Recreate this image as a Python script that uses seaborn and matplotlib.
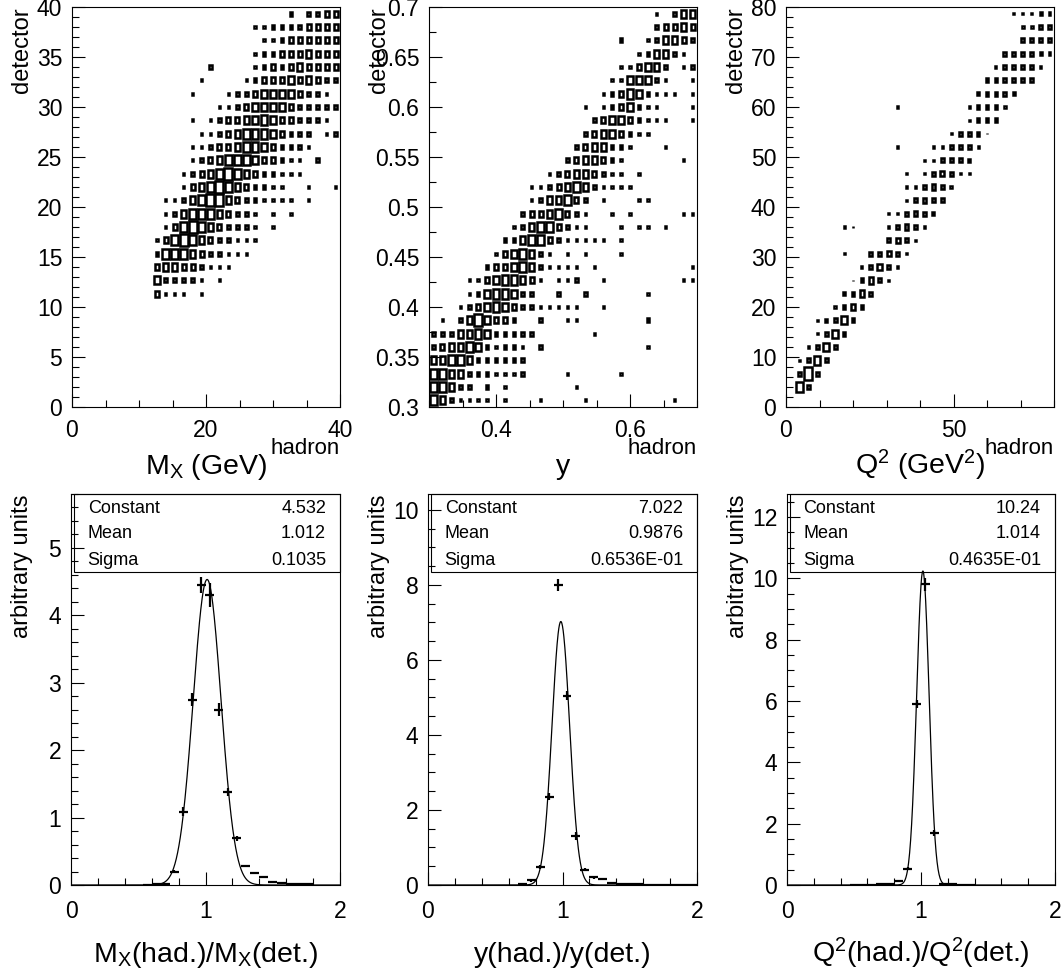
import numpy as np
import pandas as pd
import matplotlib
matplotlib.use("Agg")
import matplotlib.pyplot as plt
from matplotlib.path import Path
from matplotlib.patches import Rectangle
from matplotlib.ticker import MultipleLocator, FormatStrFormatter
import seaborn as sns

# ---------------- data ----------------
# 2D box histograms (30x30 bins), relative cell contents; rows listed from top (highest y bin) to bottom
mx_range = (0.0, 40.0)
mx_rows = [
    "000000000000000000000000202233",
    "000000000000000000001122223333",
    "000000000000000000000112333333",
    "000000000000000000001223334333",
    "000000000000000200001232343333",
    "000000000000001000012333434322",
    "000000000000010001223444432210",
    "000000000000000011234444322222",
    "000000000000010123344543322210",
    "000000000000001123455543222012",
    "000000000000011233455432221000",
    "000000000000012345554332110200",
    "000000000000123456543221110000",
    "000000000000134565432211001001",
    "000000000011245664322111101000",
    "000000000012455543221010100000",
    "000000000013565432221010000000",
    "000000000135654322111000000000",
    "000000000255543221110000000000",
    "000000000344332111000000000000",
    "000000000422221010000000000000",
    "000000000311101000000000000000",
    "000000000000000000000000000000",
    "000000000000000000000000000000",
    "000000000000000000000000000000",
    "000000000000000000000000000000",
    "000000000000000000000000000000",
    "000000000000000000000000000000",
    "000000000000000000000000000000",
    "000000000000000000000000000000",
]
y_range = (0.3, 0.7)
y_rows = [
    "000000000000000000000000010244",
    "000000000000000000000000023343",
    "000000000000000000000200124432",
    "000000000000000000000001244210",
    "000000000000000000000113442012",
    "000000000000000000001144421001",
    "000000000000000000012354211101",
    "000000000000000001012342110001",
    "000000000000000000234432111001",
    "000000000000000002344321100000",
    "000000000000000023442210001000",
    "000000000000000234432100000010",
    "000000000000012344321101000000",
    "000000000001123454211110000000",
    "000000000001244532010001100000",
    "000000000023345321001010000011",
    "000000000124553211000101101000",
    "000000002245532111110100000000",
    "000000013454210101000100000000",
    "000000233454211110100000000001",
    "000011345543101120010000000011",
    "000012455422002002000000100000",
    "000123454322111110010000000000",
    "010246433200200110000000200000",
    "222445422222000000100000000000",
    "234454212210200000000000100000",
    "445542222220000000000000000000",
    "554422211120000100000100000000",
    "554220201000000010000000000000",
    "542111101000100001000000000100",
]
q2_range = (0.0, 80.0)
q2_rows = [
    "000000000000000000000000011122",
    "000000000000000000000000002233",
    "000000000000000000000000003333",
    "000000000000000000000000333322",
    "000000000000000000000001333310",
    "000000000000000000000033333300",
    "000000000000000000000233320000",
    "000000000000100000001333200000",
    "000000000000000000001333000000",
    "000000000000000000133310000000",
    "000000000000100011333100000000",
    "000000000000000113332000000000",
    "000000000000010134311000000000",
    "000000000000011343200000000000",
    "000000000000013433000000000000",
    "000000000001134320000000000000",
    "000000110001343200000000000000",
    "000000000003431000000000000000",
    "000000100334310000000000000000",
    "000000001353100000000000000000",
    "000000013531000000000000000000",
    "000000235300000000000000000000",
    "000002353000000000000000000000",
    "000123630000000000000000000000",
    "000136300000000000000000000000",
    "001363000000000000000000000000",
    "013730000000000000000000000000",
    "039300000000000000000000000000",
    "083000000000000000000000000000",
    "000000000000000000000000000000",
]

# 1D ratio histograms: 30 bins on [0, 2]
ratio_bins = np.linspace(0.0, 2.0, 31)
mx_ratio = [0, 0, 0, 0, 0, 0, 0, 0, 0.005, 0.01, 0.02, 0.20, 1.09, 2.75, 4.45,
            4.30, 2.60, 1.38, 0.69, 0.28, 0.18, 0.12, 0.05, 0.03, 0.01, 0.01, 0.02, 0, 0, 0]
mx_err = [0, 0, 0, 0, 0, 0, 0, 0, 0.005, 0.007, 0.01, 0.02, 0.06, 0.10, 0.12,
          0.18, 0.10, 0.06, 0.04, 0.02, 0.02, 0.02, 0.01, 0.01, 0.005, 0.005, 0.007, 0, 0, 0]
y_ratio = [0, 0, 0, 0, 0, 0, 0, 0, 0, 0, 0.03, 0.12, 0.47, 2.35, 8.00,
           5.05, 1.30, 0.41, 0.20, 0.15, 0.05, 0.03, 0.02, 0.02, 0.01, 0.01, 0.01, 0.01, 0.01, 0.01]
y_err = [0, 0, 0, 0, 0, 0, 0, 0, 0, 0, 0.02, 0.03, 0.05, 0.09, 0.16,
         0.12, 0.10, 0.04, 0.03, 0.03, 0.015, 0.015, 0.01, 0.01, 0.01, 0.01, 0.01, 0.01, 0.01, 0.01]
q2_ratio = [0, 0, 0, 0, 0, 0, 0, 0.005, 0.005, 0.01, 0.02, 0.04, 0.13, 0.53, 5.90,
            9.80, 1.70, 0.04, 0.02, 0.01, 0.005, 0, 0, 0, 0, 0, 0, 0, 0, 0]
q2_err = [0, 0, 0, 0, 0, 0, 0, 0.005, 0.005, 0.007, 0.01, 0.02, 0.03, 0.05, 0.14,
          0.22, 0.09, 0.02, 0.01, 0.01, 0.005, 0, 0, 0, 0, 0, 0, 0, 0, 0]

# Gaussian fit parameters (Constant, Mean, Sigma) and their printed labels
fit_params = [(4.532, 1.012, 0.1035), (7.022, 0.9876, 0.06536), (10.24, 1.014, 0.04635)]
fit_labels = [("4.532", "1.012", "0.1035"),
              ("7.022", "0.9876", "0.6536E-01"),
              ("10.24", "1.014", "0.4635E-01")]

top_xlabels = ["M$_X$ (GeV)", "y", "Q$^2$ (GeV$^2$)"]
bottom_xlabels = ["M$_X$(had.)/M$_X$(det.)", "y(had.)/y(det.)", "Q$^2$(had.)/Q$^2$(det.)"]

# ---------------- style ----------------
sns.set_theme(style="ticks")
plt.rcParams.update({
    "font.family": ["Liberation Sans", "DejaVu Sans"],
    "mathtext.fontset": "custom",
    "mathtext.rm": "Liberation Sans",
    "mathtext.it": "Liberation Sans",
    "mathtext.bf": "Liberation Sans",
    "mathtext.default": "regular",
    "text.color": "black",
    "axes.edgecolor": "black",
    "axes.labelcolor": "black",
    "xtick.color": "black",
    "ytick.color": "black",
    "axes.linewidth": 0.8,
    "axes.facecolor": "white",
    "figure.facecolor": "white",
})

W, H = 1062, 973
fig = plt.figure(figsize=(W / 100, H / 100), dpi=100)


def fx(px):
    return px / W


def fy(py):
    return 1 - py / H


def make_axes(left, right, top, bottom):
    return fig.add_axes([fx(left), fy(bottom), (right - left) / W, (bottom - top) / H])


def style_axes(ax, xmaj, xmin, ymaj, ymin, xpad):
    ax.xaxis.set_major_locator(MultipleLocator(xmaj))
    ax.xaxis.set_minor_locator(MultipleLocator(xmin))
    ax.yaxis.set_major_locator(MultipleLocator(ymaj))
    ax.yaxis.set_minor_locator(MultipleLocator(ymin))
    ax.xaxis.set_major_formatter(FormatStrFormatter("%g"))
    ax.yaxis.set_major_formatter(FormatStrFormatter("%g"))
    ax.tick_params(which="both", direction="in", top=False, right=False, width=0.8,
                   labelsize=16.5)
    ax.tick_params(which="major", length=9.4)
    ax.tick_params(which="minor", length=4.7)
    ax.tick_params(axis="y", which="major", pad=7.0)
    ax.tick_params(axis="x", which="major", pad=xpad)
    for sp in ax.spines.values():
        sp.set_visible(True)
        sp.set_linewidth(0.8)
        sp.set_color("black")
    ax.set_xlabel("")
    ax.set_ylabel("")


def draw_boxes(ax, rows, rng, geom):
    left, right, top, bottom = geom
    grid = np.array([[int(c) for c in r] for r in rows[::-1]])
    ny, nx = grid.shape
    centers_x = rng[0] + (np.arange(nx) + 0.5) * (rng[1] - rng[0]) / nx
    centers_y = rng[0] + (np.arange(ny) + 0.5) * (rng[1] - rng[0]) / ny
    jj, ii = np.nonzero(grid)
    lev = grid[jj, ii]
    cw = (right - left) / nx
    ch = (bottom - top) / ny
    a = 0.5 * cw / ch
    marker = Path([(-a, -0.5), (a, -0.5), (a, 0.5), (-a, 0.5), (-a, -0.5)],
                  [Path.MOVETO, Path.LINETO, Path.LINETO, Path.LINETO, Path.CLOSEPOLY])
    frac = lev / (grid.max() + 0.7)
    s = (frac * ch * 72 / 100) ** 2
    df = pd.DataFrame({"x": centers_x[ii], "y": centers_y[jj]})
    sns.scatterplot(data=df, x="x", y="y", s=s, marker=marker, color="black",
                    linewidth=1.8, legend=False, ax=ax)
    coll = ax.collections[-1]
    coll.set_facecolor("none")
    coll.set_edgecolor("black")
    coll.set_linewidth(1.8)
    coll.set_joinstyle("miter")
    ax.set_xlim(*rng)
    ax.set_ylim(*rng)


# ---------------- top row: 2D box plots ----------------
top_geoms = [(72, 340, 7, 407), (429, 697, 7, 407), (786, 1054, 7, 407)]
top_data = [(mx_rows, mx_range), (y_rows, y_range), (q2_rows, q2_range)]
top_ticks = [(20, 5, 5, 1), (0.2, 0.05, 0.05, 0.025), (50, 10, 10, 2)]

for geom, (rows, rng), tk, lab in zip(top_geoms, top_data, top_ticks, top_xlabels):
    ax = make_axes(*geom)
    draw_boxes(ax, rows, rng, geom)
    style_axes(ax, *tk, xpad=8.5)
    left, right, top, bottom = geom
    fig.text(fx(right), fy(454), "hadron", ha="right", va="baseline", fontsize=16)
    fig.text(fx((left + right) / 2), fy(474), lab, ha="center", va="baseline", fontsize=20.5)
    fig.text(fx(left - 44), fy(top), "detector", rotation=90, rotation_mode="anchor",
             ha="right", va="baseline", fontsize=17)

# ---------------- bottom row: ratio histograms with gaussian fits ----------------
bot_geoms = [(71, 340, 494, 885), (428, 697, 494, 885), (787, 1055, 494, 885)]
bot_data = [(mx_ratio, mx_err), (y_ratio, y_err), (q2_ratio, q2_err)]
bot_ymax = [5.80, 10.42, 12.75]
bot_yticks = [(1, 0.2), (2, 0.5), (2, 0.5)]
centers = (ratio_bins[:-1] + ratio_bins[1:]) / 2
half_w = (ratio_bins[1] - ratio_bins[0]) / 2

for geom, (vals, errs), ymax, ytk, (c, m, sg), labs, xlab in zip(
        bot_geoms, bot_data, bot_ymax, bot_yticks, fit_params, fit_labels, bottom_xlabels):
    ax = make_axes(*geom)
    vals = np.asarray(vals, dtype=float)
    errs = np.asarray(errs, dtype=float)
    mask = vals > 0
    ax.errorbar(centers[mask], vals[mask], xerr=half_w, yerr=errs[mask], fmt="none",
                ecolor="black", elinewidth=1.6, capsize=0)
    xs = np.linspace(0.0, 2.0, 801)
    ys = c * np.exp(-0.5 * ((xs - m) / sg) ** 2)
    sns.lineplot(x=xs, y=ys, color="black", linewidth=0.9, estimator=None, ax=ax)
    ax.set_xlim(0, 2)
    ax.set_ylim(0, ymax)
    style_axes(ax, 1, 0.2, ytk[0], ytk[1], xpad=11.0)
    # statistics box
    ax.add_patch(Rectangle((0.012, 0.80), 0.988, 0.20, transform=ax.transAxes,
                           fill=False, edgecolor="black", linewidth=0.8, clip_on=False, zorder=5))
    for (name, val), yy in zip(zip(["Constant", "Mean", "Sigma"], labs), [0.962, 0.898, 0.831]):
        ax.text(0.062, yy, name, transform=ax.transAxes, ha="left", va="center", fontsize=13)
        ax.text(0.948, yy, val, transform=ax.transAxes, ha="right", va="center", fontsize=13)
    left, right, top, bottom = geom
    fig.text(fx((left + right) / 2), fy(962), xlab, ha="center", va="baseline", fontsize=20.5)
    fig.text(fx(left - 43), fy(top), "arbitrary units", rotation=90, rotation_mode="anchor",
             ha="right", va="baseline", fontsize=17)

fig.savefig("out.png", dpi=100)
